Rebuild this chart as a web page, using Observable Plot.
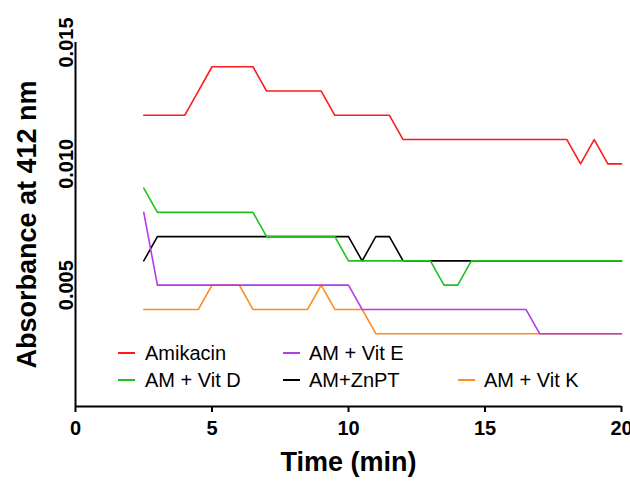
<!DOCTYPE html>
<html><head><meta charset="utf-8">
<script src="https://cdn.jsdelivr.net/npm/d3@7"></script>
<script src="https://cdn.jsdelivr.net/npm/@observablehq/plot@0.6"></script>
<style>
body{margin:0;background:#fff;}
#wrap{position:relative;width:630px;height:481px;font-family:"Liberation Sans",Arial,sans-serif;}
.leg{position:absolute;height:26px;display:flex;align-items:center;font-size:20px;white-space:nowrap;color:#000;}
.leg i{display:inline-block;width:17px;height:2px;}
</style></head>
<body>
<div id="wrap"></div>
<script>
// Data (absorbance at 412 nm)
const times = [2.5,3,3.5,4,4.5,5,5.5,6,6.5,7,7.5,8,8.5,9,9.5,10,10.5,11,11.5,12,12.5,13,13.5,14,14.5,15,15.5,16,16.5,17,17.5,18,18.5,19,19.5,20];
const amikacin = [0.012,0.012,0.012,0.012,0.013,0.014,0.014,0.014,0.014,0.013,0.013,0.013,0.013,0.013,0.012,0.012,0.012,0.012,0.012,0.011,0.011,0.011,0.011,0.011,0.011,0.011,0.011,0.011,0.011,0.011,0.011,0.011,0.010,0.011,0.010,0.010];
const vitD = [0.009,0.008,0.008,0.008,0.008,0.008,0.008,0.008,0.008,0.007,0.007,0.007,0.007,0.007,0.007,0.006,0.006,0.006,0.006,0.006,0.006,0.006,0.005,0.005,0.006,0.006,0.006,0.006,0.006,0.006,0.006,0.006,0.006,0.006,0.006,0.006];
const znpt = [0.006,0.007,0.007,0.007,0.007,0.007,0.007,0.007,0.007,0.007,0.007,0.007,0.007,0.007,0.007,0.007,0.006,0.007,0.007,0.006,0.006,0.006,0.006,0.006,0.006,0.006,0.006,0.006,0.006,0.006,0.006,0.006,0.006,0.006,0.006,0.006];
const vitE = [0.008,0.005,0.005,0.005,0.005,0.005,0.005,0.005,0.005,0.005,0.005,0.005,0.005,0.005,0.005,0.005,0.004,0.004,0.004,0.004,0.004,0.004,0.004,0.004,0.004,0.004,0.004,0.004,0.004,0.003,0.003,0.003,0.003,0.003,0.003,0.003];
const vitK = [0.004,0.004,0.004,0.004,0.004,0.005,0.005,0.005,0.004,0.004,0.004,0.004,0.004,0.005,0.004,0.004,0.004,0.003,0.003,0.003,0.003,0.003,0.003,0.003,0.003,0.003,0.003,0.003,0.003,0.003,0.003,0.003,0.003,0.003,0.003,0.003];

const seriesNames = ["Amikacin","AM + Vit E","AM + Vit D","AM+ZnPT","AM + Vit K"];
const seriesColors = ["#ff1a1a","#b23ce6","#1ec21e","#000000","#ff8c1f"];
const xTicks = [0,5,10,15,20];
const yTicks = [0.005,0.010,0.015];
const xTitle = "Time (min)";
const yTitle = "Absorbance at 412 nm";

// draw order: black, green, orange, purple, red
const drawOrder = [["AM+ZnPT",znpt],["AM + Vit D",vitD],["AM + Vit K",vitK],["AM + Vit E",vitE],["Amikacin",amikacin]];
const rows = drawOrder.flatMap(([name,vals]) => vals.map((v,i)=>({series:name,time:times[i],value:v})));

const chart = Plot.plot({
  width:630, height:481,
  marginLeft:75, marginRight:9, marginTop:42, marginBottom:75,
  style:{fontFamily:'"Liberation Sans", Arial, sans-serif', fontSize:"20px", fontWeight:"bold", color:"#000", background:"#fff"},
  x:{domain:[0,20]},
  y:{domain:[0,0.015]},
  color:{domain:seriesNames, range:seriesColors},
  marks:[
    Plot.axisX({ticks:xTicks, tickSize:6, tickPadding:8, strokeWidth:2, label:null}),
    Plot.axisY({ticks:yTicks, tickSize:0, tickRotate:-90, tickPadding:3, tickFormat:d3.format(".3f"), label:null}),
    Plot.ruleX([0],{strokeWidth:2}),
    Plot.ruleY([0],{strokeWidth:2}),
    Plot.line(rows,{x:"time", y:"value", z:"series", stroke:"series", strokeWidth:1.6}),
    Plot.text([xTitle],{text:d=>d, frameAnchor:"bottom", dy:64, fontSize:27, fontWeight:"bold"}),
    Plot.text([yTitle],{text:d=>d, frameAnchor:"left", textAnchor:"middle", dx:-48, rotate:-90, fontSize:27, fontWeight:"bold"})
  ]
});
const wrap = document.getElementById("wrap");
wrap.appendChild(chart);

// Legend (inside plot area, two rows)
const legendLayout = [
  {name:"Amikacin", left:118, top:340},
  {name:"AM + Vit E", left:283, top:340},
  {name:"AM + Vit D", left:118, top:367},
  {name:"AM+ZnPT", left:283, top:367},
  {name:"AM + Vit K", left:458, top:367}
];
legendLayout.forEach(it => {
  const d = document.createElement("div");
  d.className = "leg";
  d.style.left = it.left + "px";
  d.style.top = it.top + "px";
  const sw = document.createElement("i");
  sw.style.background = seriesColors[seriesNames.indexOf(it.name)];
  const t = document.createElement("span");
  t.textContent = it.name;
  t.style.marginLeft = (it.left === 118 ? 10 : 9) + "px";
  d.appendChild(sw); d.appendChild(t);
  wrap.appendChild(d);
});
</script>
</body></html>
